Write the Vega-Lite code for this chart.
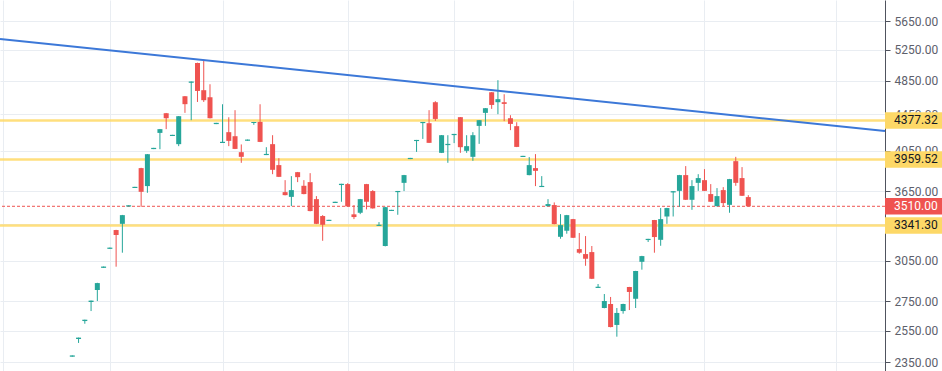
{
  "$schema": "https://vega.github.io/schema/vega-lite/v6.json",
  "autosize": {"type": "none"},
  "width": 885,
  "height": 371,
  "padding": {"left": 0, "top": 0, "right": 57, "bottom": 0},
  "background": "white",
  "config": {"view": {"stroke": null}},
  "datasets": {
    "candles": [
      {"i":0,"o":2384,"c":2392,"h":2392,"l":2384},
      {"i":1,"o":2495,"c":2504,"h":2504,"l":2470},
      {"i":2,"o":2613,"c":2622,"h":2622,"l":2595},
      {"i":3,"o":2744,"c":2754,"h":2754,"l":2681},
      {"i":4,"o":2830,"c":2881,"h":2883,"l":2751},
      {"i":5,"o":2996,"c":3006,"h":3006,"l":2996},
      {"i":6,"o":3146,"c":3156,"h":3156,"l":3146},
      {"i":7,"o":3302,"c":3260,"h":3304,"l":3005},
      {"i":8,"o":3355,"c":3431,"h":3433,"l":3115},
      {"i":9,"o":3508,"c":3519,"h":3519,"l":3508},
      {"i":10,"o":3679,"c":3690,"h":3690,"l":3679},
      {"i":11,"o":3872,"c":3643,"h":3875,"l":3505},
      {"i":12,"o":3697,"c":4013,"h":4015,"l":3634},
      {"i":13,"o":4066,"c":4079,"h":4079,"l":4066},
      {"i":14,"o":4239,"c":4280,"h":4282,"l":4065},
      {"i":15,"o":4459,"c":4402,"h":4462,"l":4280},
      {"i":16,"o":4205,"c":4218,"h":4218,"l":4205},
      {"i":17,"o":4118,"c":4425,"h":4427,"l":4097},
      {"i":18,"o":4658,"c":4564,"h":4660,"l":4463},
      {"i":19,"o":4822,"c":4838,"h":4838,"l":4380},
      {"i":20,"o":5074,"c":4722,"h":5078,"l":4590},
      {"i":21,"o":4731,"c":4611,"h":5119,"l":4590},
      {"i":22,"o":4646,"c":4402,"h":4804,"l":4400},
      {"i":23,"o":4336,"c":4350,"h":4350,"l":4336},
      {"i":24,"o":4130,"c":4143,"h":4563,"l":4130},
      {"i":25,"o":4247,"c":4153,"h":4413,"l":4097},
      {"i":26,"o":4203,"c":4068,"h":4494,"l":4066},
      {"i":27,"o":4034,"c":3986,"h":4115,"l":3925},
      {"i":28,"o":4154,"c":4167,"h":4167,"l":4154},
      {"i":29,"o":4347,"c":4360,"h":4360,"l":4328},
      {"i":30,"o":4361,"c":4142,"h":4563,"l":4140},
      {"i":31,"o":4004,"c":4016,"h":4086,"l":4004},
      {"i":32,"o":4118,"c":3855,"h":4214,"l":3812},
      {"i":33,"o":3902,"c":3786,"h":3972,"l":3784},
      {"i":34,"o":3640,"c":3612,"h":3754,"l":3610},
      {"i":35,"o":3596,"c":3659,"h":3793,"l":3511},
      {"i":36,"o":3832,"c":3783,"h":3834,"l":3735},
      {"i":37,"o":3700,"c":3622,"h":3754,"l":3620},
      {"i":38,"o":3735,"c":3467,"h":3822,"l":3465},
      {"i":39,"o":3575,"c":3355,"h":3603,"l":3353},
      {"i":40,"o":3423,"c":3347,"h":3431,"l":3212},
      {"i":41,"o":3380,"c":3390,"h":3390,"l":3380},
      {"i":42,"o":3540,"c":3551,"h":3551,"l":3540},
      {"i":43,"o":3707,"c":3719,"h":3719,"l":3551},
      {"i":44,"o":3716,"c":3509,"h":3725,"l":3507},
      {"i":45,"o":3438,"c":3414,"h":3521,"l":3396},
      {"i":46,"o":3452,"c":3575,"h":3577,"l":3440},
      {"i":47,"o":3716,"c":3551,"h":3718,"l":3482},
      {"i":48,"o":3650,"c":3491,"h":3659,"l":3489},
      {"i":49,"o":3337,"c":3347,"h":3370,"l":3337},
      {"i":50,"o":3169,"c":3502,"h":3505,"l":3166},
      {"i":51,"o":3468,"c":3478,"h":3478,"l":3468},
      {"i":52,"o":3640,"c":3651,"h":3651,"l":3434},
      {"i":53,"o":3728,"c":3803,"h":3805,"l":3650},
      {"i":54,"o":3963,"c":3975,"h":3975,"l":3963},
      {"i":55,"o":4151,"c":4163,"h":4163,"l":4037},
      {"i":56,"o":4347,"c":4360,"h":4360,"l":4174},
      {"i":57,"o":4346,"c":4132,"h":4494,"l":4130},
      {"i":58,"o":4587,"c":4394,"h":4599,"l":4372},
      {"i":59,"o":4027,"c":4214,"h":4216,"l":4025},
      {"i":60,"o":4108,"c":4121,"h":4214,"l":3925},
      {"i":61,"o":4215,"c":4228,"h":4228,"l":4129},
      {"i":62,"o":4414,"c":4086,"h":4415,"l":4027},
      {"i":63,"o":4048,"c":4097,"h":4214,"l":4027},
      {"i":64,"o":3986,"c":4214,"h":4247,"l":3945},
      {"i":65,"o":4316,"c":4380,"h":4382,"l":4121},
      {"i":66,"o":4463,"c":4517,"h":4519,"l":4316},
      {"i":67,"o":4706,"c":4555,"h":4708,"l":4509},
      {"i":68,"o":4587,"c":4623,"h":4854,"l":4448},
      {"i":69,"o":4587,"c":4567,"h":4682,"l":4369},
      {"i":70,"o":4402,"c":4338,"h":4436,"l":4269},
      {"i":71,"o":4313,"c":4089,"h":4357,"l":4087},
      {"i":72,"o":3984,"c":3996,"h":3996,"l":3984},
      {"i":73,"o":3803,"c":3902,"h":3983,"l":3801},
      {"i":74,"o":3872,"c":3845,"h":4014,"l":3697},
      {"i":75,"o":3688,"c":3699,"h":3793,"l":3688},
      {"i":76,"o":3511,"c":3530,"h":3575,"l":3510},
      {"i":77,"o":3521,"c":3353,"h":3545,"l":3351},
      {"i":78,"o":3245,"c":3344,"h":3440,"l":3229},
      {"i":79,"o":3296,"c":3431,"h":3433,"l":3271},
      {"i":80,"o":3396,"c":3237,"h":3398,"l":3235},
      {"i":81,"o":3144,"c":3115,"h":3277,"l":3107},
      {"i":82,"o":3104,"c":3067,"h":3251,"l":3012},
      {"i":83,"o":3120,"c":2913,"h":3169,"l":2911},
      {"i":84,"o":2845,"c":2854,"h":2874,"l":2845},
      {"i":85,"o":2702,"c":2751,"h":2801,"l":2700},
      {"i":86,"o":2730,"c":2573,"h":2780,"l":2571},
      {"i":87,"o":2587,"c":2668,"h":2702,"l":2510},
      {"i":88,"o":2681,"c":2730,"h":2732,"l":2663},
      {"i":89,"o":2852,"c":2816,"h":2853,"l":2688},
      {"i":90,"o":2767,"c":2972,"h":2973,"l":2702},
      {"i":91,"o":3043,"c":3088,"h":3090,"l":2982},
      {"i":92,"o":3218,"c":3228,"h":3228,"l":3202},
      {"i":93,"o":3388,"c":3243,"h":3389,"l":3115},
      {"i":94,"o":3220,"c":3396,"h":3494,"l":3171},
      {"i":95,"o":3419,"c":3494,"h":3496,"l":3355},
      {"i":96,"o":3637,"c":3649,"h":3649,"l":3419},
      {"i":97,"o":3652,"c":3803,"h":3805,"l":3505},
      {"i":98,"o":3803,"c":3569,"h":3892,"l":3567},
      {"i":99,"o":3569,"c":3697,"h":3754,"l":3478},
      {"i":100,"o":3728,"c":3774,"h":3812,"l":3652},
      {"i":101,"o":3754,"c":3652,"h":3862,"l":3650},
      {"i":102,"o":3622,"c":3551,"h":3716,"l":3549},
      {"i":103,"o":3511,"c":3603,"h":3678,"l":3509},
      {"i":104,"o":3659,"c":3539,"h":3687,"l":3511},
      {"i":105,"o":3523,"c":3764,"h":3766,"l":3452},
      {"i":106,"o":3942,"c":3728,"h":3986,"l":3700},
      {"i":107,"o":3774,"c":3606,"h":3882,"l":3604},
      {"i":108,"o":3594,"c":3510,"h":3612,"l":3508}
    ],
    "levels": [{"lvl": 4377.32}, {"lvl": 3959.52}, {"lvl": 3341.30}],
    "last": [{"lvl": 3510.00}],
    "trend": [{"i": -11.55, "p": 5398}, {"i": 129.84, "p": 4259}]
  },
  "layer": [
    {
      "data": {"name": "levels"},
      "mark": {"type": "rule", "color": "#FFD966", "strokeWidth": 2.5, "opacity": 0.85},
      "encoding": {
        "y": {"field": "lvl", "type": "quantitative", "scale": {"type": "log", "domain": [2298, 5966], "nice": false}}
      }
    },
    {
      "data": {"name": "last"},
      "mark": {"type": "rule", "color": "#EF5350", "strokeWidth": 1, "strokeDash": [3, 2]},
      "encoding": {
        "y": {"field": "lvl", "type": "quantitative", "scale": {"type": "log", "domain": [2298, 5966], "nice": false}}
      }
    },
    {
      "data": {"name": "candles"},
      "mark": {"type": "rule", "strokeWidth": 1},
      "encoding": {
        "x": {"field": "i", "type": "quantitative", "scale": {"domain": [-11.55, 129.84], "nice": false, "zero": false, "padding": 0},
          "axis": {"values": [-11, 6, 24, 44, 61, 80, 101, 122], "labels": false, "ticks": false, "domain": false, "grid": true, "gridColor": "#E9EDF2", "title": null}},
        "y": {"field": "l", "type": "quantitative", "scale": {"type": "log", "domain": [2298, 5966], "nice": false},
          "axis": {"orient": "right", "values": [2350, 2550, 2750, 3050, 3350, 3650, 4050, 4450, 4850, 5250, 5650], "format": ".2f", "title": null,
            "grid": true, "gridColor": "#E9EDF2", "domainColor": "#50535E", "tickColor": "#50535E", "tickSize": 5, "labelPadding": 4,
            "labelFont": "Roboto", "labelFontSize": 12, "labelColor": "#5D606B"}},
        "y2": {"field": "h"},
        "color": {"condition": {"test": "datum.c >= datum.o", "value": "#26A69A"}, "value": "#EF5350"}
      }
    },
    {
      "data": {"name": "candles"},
      "mark": {"type": "bar", "size": 5},
      "encoding": {
        "x": {"field": "i", "type": "quantitative", "scale": {"domain": [-11.55, 129.84], "nice": false, "zero": false, "padding": 0}},
        "y": {"field": "o", "type": "quantitative", "scale": {"type": "log", "domain": [2298, 5966], "nice": false}},
        "y2": {"field": "c"},
        "color": {"condition": {"test": "datum.c >= datum.o", "value": "#26A69A"}, "value": "#EF5350"}
      }
    },
    {
      "data": {"name": "trend"},
      "mark": {"type": "line", "color": "#3C78D8", "strokeWidth": 2, "clip": true},
      "encoding": {
        "x": {"field": "i", "type": "quantitative", "scale": {"domain": [-11.55, 129.84], "nice": false, "zero": false, "padding": 0}},
        "y": {"field": "p", "type": "quantitative", "scale": {"type": "log", "domain": [2298, 5966], "nice": false}}
      }
    },
    {
      "data": {"name": "levels"},
      "mark": {"type": "point", "shape": "M0,-0.29L2,-0.29L2,0.29L0,0.29Z", "size": 3249, "filled": true, "fill": "#FDD867", "opacity": 1, "strokeWidth": 0},
      "encoding": {
        "x": {"datum": 129.84, "type": "quantitative", "scale": {"domain": [-11.55, 129.84], "nice": false, "zero": false, "padding": 0}},
        "y": {"field": "lvl", "type": "quantitative", "scale": {"type": "log", "domain": [2298, 5966], "nice": false}}
      }
    },
    {
      "data": {"name": "levels"},
      "mark": {"type": "text", "align": "left", "baseline": "middle", "dx": 9, "font": "Roboto", "fontSize": 12, "color": "#131722"},
      "encoding": {
        "x": {"datum": 129.84, "type": "quantitative", "scale": {"domain": [-11.55, 129.84], "nice": false, "zero": false, "padding": 0}},
        "y": {"field": "lvl", "type": "quantitative", "scale": {"type": "log", "domain": [2298, 5966], "nice": false}},
        "text": {"field": "lvl", "type": "quantitative", "format": ".2f"}
      }
    },
    {
      "data": {"name": "last"},
      "mark": {"type": "point", "shape": "M0,-0.29L2,-0.29L2,0.29L0,0.29Z", "size": 3249, "filled": true, "fill": "#EF5350", "opacity": 1, "strokeWidth": 0},
      "encoding": {
        "x": {"datum": 129.84, "type": "quantitative", "scale": {"domain": [-11.55, 129.84], "nice": false, "zero": false, "padding": 0}},
        "y": {"field": "lvl", "type": "quantitative", "scale": {"type": "log", "domain": [2298, 5966], "nice": false}}
      }
    },
    {
      "data": {"name": "last"},
      "mark": {"type": "text", "align": "left", "baseline": "middle", "dx": 9, "font": "Roboto", "fontSize": 12, "color": "#FFFFFF"},
      "encoding": {
        "x": {"datum": 129.84, "type": "quantitative", "scale": {"domain": [-11.55, 129.84], "nice": false, "zero": false, "padding": 0}},
        "y": {"field": "lvl", "type": "quantitative", "scale": {"type": "log", "domain": [2298, 5966], "nice": false}},
        "text": {"field": "lvl", "type": "quantitative", "format": ".2f"}
      }
    }
  ]
}
